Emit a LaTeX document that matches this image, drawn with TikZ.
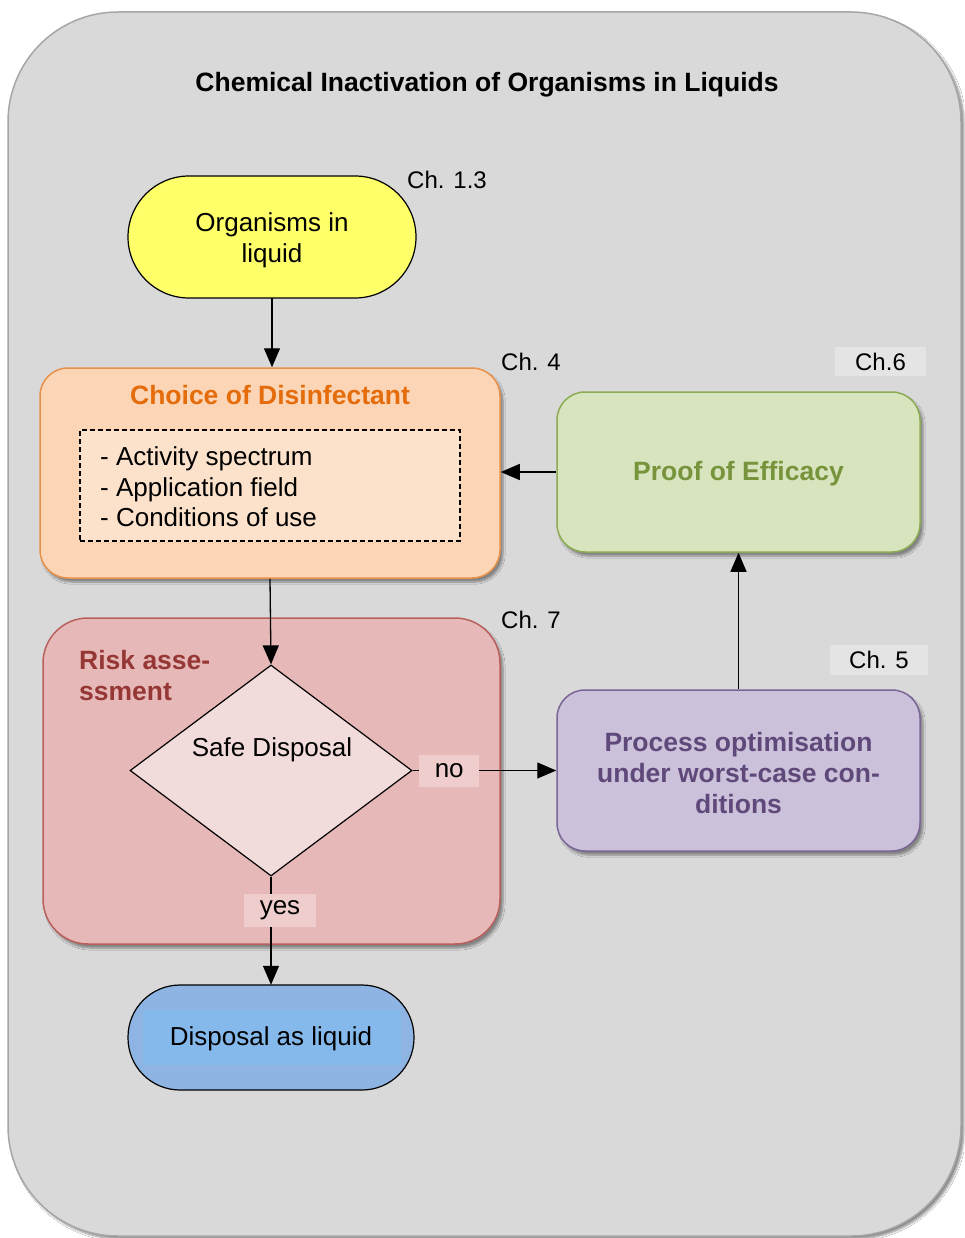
\documentclass[tikz,border=0pt]{standalone}
\usepackage{fontspec}
\setmainfont{Liberation Sans}
\usetikzlibrary{arrows.meta,shapes.geometric,shadows.blur}

\definecolor{panelfill}{HTML}{D9D9D9}
\definecolor{paneledge}{HTML}{A6A6A6}
\definecolor{startfill}{HTML}{FFFF6A}
\definecolor{choicefill}{HTML}{FBD5B5}
\definecolor{choiceedge}{HTML}{E8914A}
\definecolor{choiceinner}{HTML}{FCE1CB}
\definecolor{choicetext}{HTML}{E46C0A}
\definecolor{prooffill}{HTML}{D7E4BD}
\definecolor{proofedge}{HTML}{8DAA55}
\definecolor{prooftext}{HTML}{77933C}
\definecolor{riskfill}{HTML}{E6B9B8}
\definecolor{riskedge}{HTML}{B9605D}
\definecolor{risktext}{HTML}{953735}
\definecolor{decfill}{HTML}{F2DCDB}
\definecolor{tagfill}{HTML}{EFCDCC}
\definecolor{procfill}{HTML}{CCC1DA}
\definecolor{procedge}{HTML}{7A6596}
\definecolor{proctext}{HTML}{5F497A}
\definecolor{endfill}{HTML}{8EB4E3}
\definecolor{endinner}{HTML}{85B9EC}
\definecolor{chapfill}{HTML}{E4E4E4}

\tikzset{
  txt/.style={font=\fontsize{26}{31}\selectfont, inner sep=0pt},
  hd/.style={font=\fontsize{26.5}{31}\selectfont\bfseries, inner sep=0pt},
  chap/.style={font=\fontsize{24}{28}\selectfont, inner sep=0pt},
  chapbox/.style={chap, fill=chapfill},
  panel/.style={line width=1.5pt, rounded corners=28pt,
    blur shadow={shadow xshift=3pt, shadow yshift=-4pt, shadow blur steps=6, shadow opacity=40}},
  terminal/.style={draw=black, line width=1.2pt},
  flow/.style={draw=black, line width=1.3pt, -{Triangle[length=19pt,width=16pt,fill=black]}},
  tag/.style={txt, fill=tagfill}
}

\begin{document}
\begin{tikzpicture}[x=1pt,y=-1pt]
\useasboundingbox (0,0) rectangle (964,1238);

% outer panel
\fill[white] (0,0) rectangle (964,1238);
\draw[draw=paneledge, fill=panelfill, line width=1.5pt, rounded corners=110pt,
  blur shadow={shadow xshift=3pt, shadow yshift=-3pt, shadow blur steps=6, shadow opacity=45}]
  (8,12) rectangle (961,1236);

\node[hd] (title) at (487,85) {Chemical Inactivation of Organisms in Liquids};

% start terminal
\draw[terminal, fill=startfill, rounded corners=61pt] (128,176) rectangle (416,298);
\node[inner sep=0pt, minimum width=288pt, minimum height=122pt] (start) at (272,237) {};
\node[txt, align=center] (startt) at (272,240) {Organisms in\\liquid};
\node[chap] (ch13) at (447,180) {Ch. 1.3};

% choice of disinfectant
\node[panel, draw=choiceedge, fill=choicefill, minimum width=460pt, minimum height=210pt] (choice) at (270,473) {};
\node[hd, text=choicetext] (choicet) at (270,395) {Choice of Disinfectant};
\node[draw=black, dash pattern=on 5pt off 3pt, line width=1.2pt, fill=choiceinner,
  minimum width=380pt, minimum height=111pt] (crit) at (270,485.5) {};
\node[txt, font=\fontsize{26}{30.5}\selectfont, anchor=west, align=left] (critt) at (100,487) {- Activity spectrum\\- Application field\\- Conditions of use};
\node[chap] (ch4) at (531,362) {Ch. 4};

% proof of efficacy
\node[panel, draw=proofedge, fill=prooffill, minimum width=363pt, minimum height=160pt] (proof) at (738.5,472) {};
\node[hd, text=prooftext] (prooft) at (738.5,474) {Proof of Efficacy};
\node[chapbox, minimum width=91pt, minimum height=29pt] (ch6) at (880.5,361.5) {Ch.6};

% risk assessment
\node[panel, draw=riskedge, fill=riskfill, rounded corners=45pt, minimum width=457pt, minimum height=326pt] (risk) at (271.5,781) {};
\node[hd, text=risktext, anchor=west, align=left] (riskt) at (79,676) {Risk asse-\\ssment};
\node[chap] (ch7) at (531,620) {Ch. 7};

\node[diamond, draw=black, line width=1.2pt, fill=decfill, inner sep=0pt,
  minimum width=282pt, minimum height=211pt] (dec) at (271,770.5) {};
\node[txt] (dect) at (272,750) {Safe Disposal};

% process optimisation
\node[panel, draw=procedge, fill=procfill, minimum width=363pt, minimum height=161pt] (proc) at (738.5,770.5) {};
\node[hd, text=proctext, align=center] (proct) at (738.5,773) {Process optimisation\\under worst-case con-\\ditions};
\node[chapbox, minimum width=98pt, minimum height=30pt] (ch5) at (879,660) {Ch. 5};

% end terminal
\draw[terminal, fill=endfill, rounded corners=52pt] (128,985) rectangle (414,1090);
\node[inner sep=0pt, minimum width=286pt, minimum height=105pt] (finish) at (271,1037.5) {};
\node[fill=endinner, minimum width=258pt, minimum height=55pt] (finishbg) at (272,1037.5) {};
\node[txt] (finisht) at (271,1039) {Disposal as liquid};

% connectors
\draw[flow] (start.south) -- (start.south |- choice.north);
\draw[flow] (proof.west) -- (proof.west -| choice.east);
\draw[flow] (choice.south) -- (dec.north);
\draw[flow] (dec.east) -- node[tag, pos=0.255, minimum width=60pt, minimum height=32pt] (no) {no} (dec.east -| proc.west);
\draw[flow] (dec.south) -- node[tag, pos=0.31, xshift=9pt, minimum width=72pt, minimum height=33pt] (yes) {yes} (dec.south |- finish.north);
\draw[flow] (proc.north) -- (proc.north |- proof.south);
\end{tikzpicture}
\end{document}
